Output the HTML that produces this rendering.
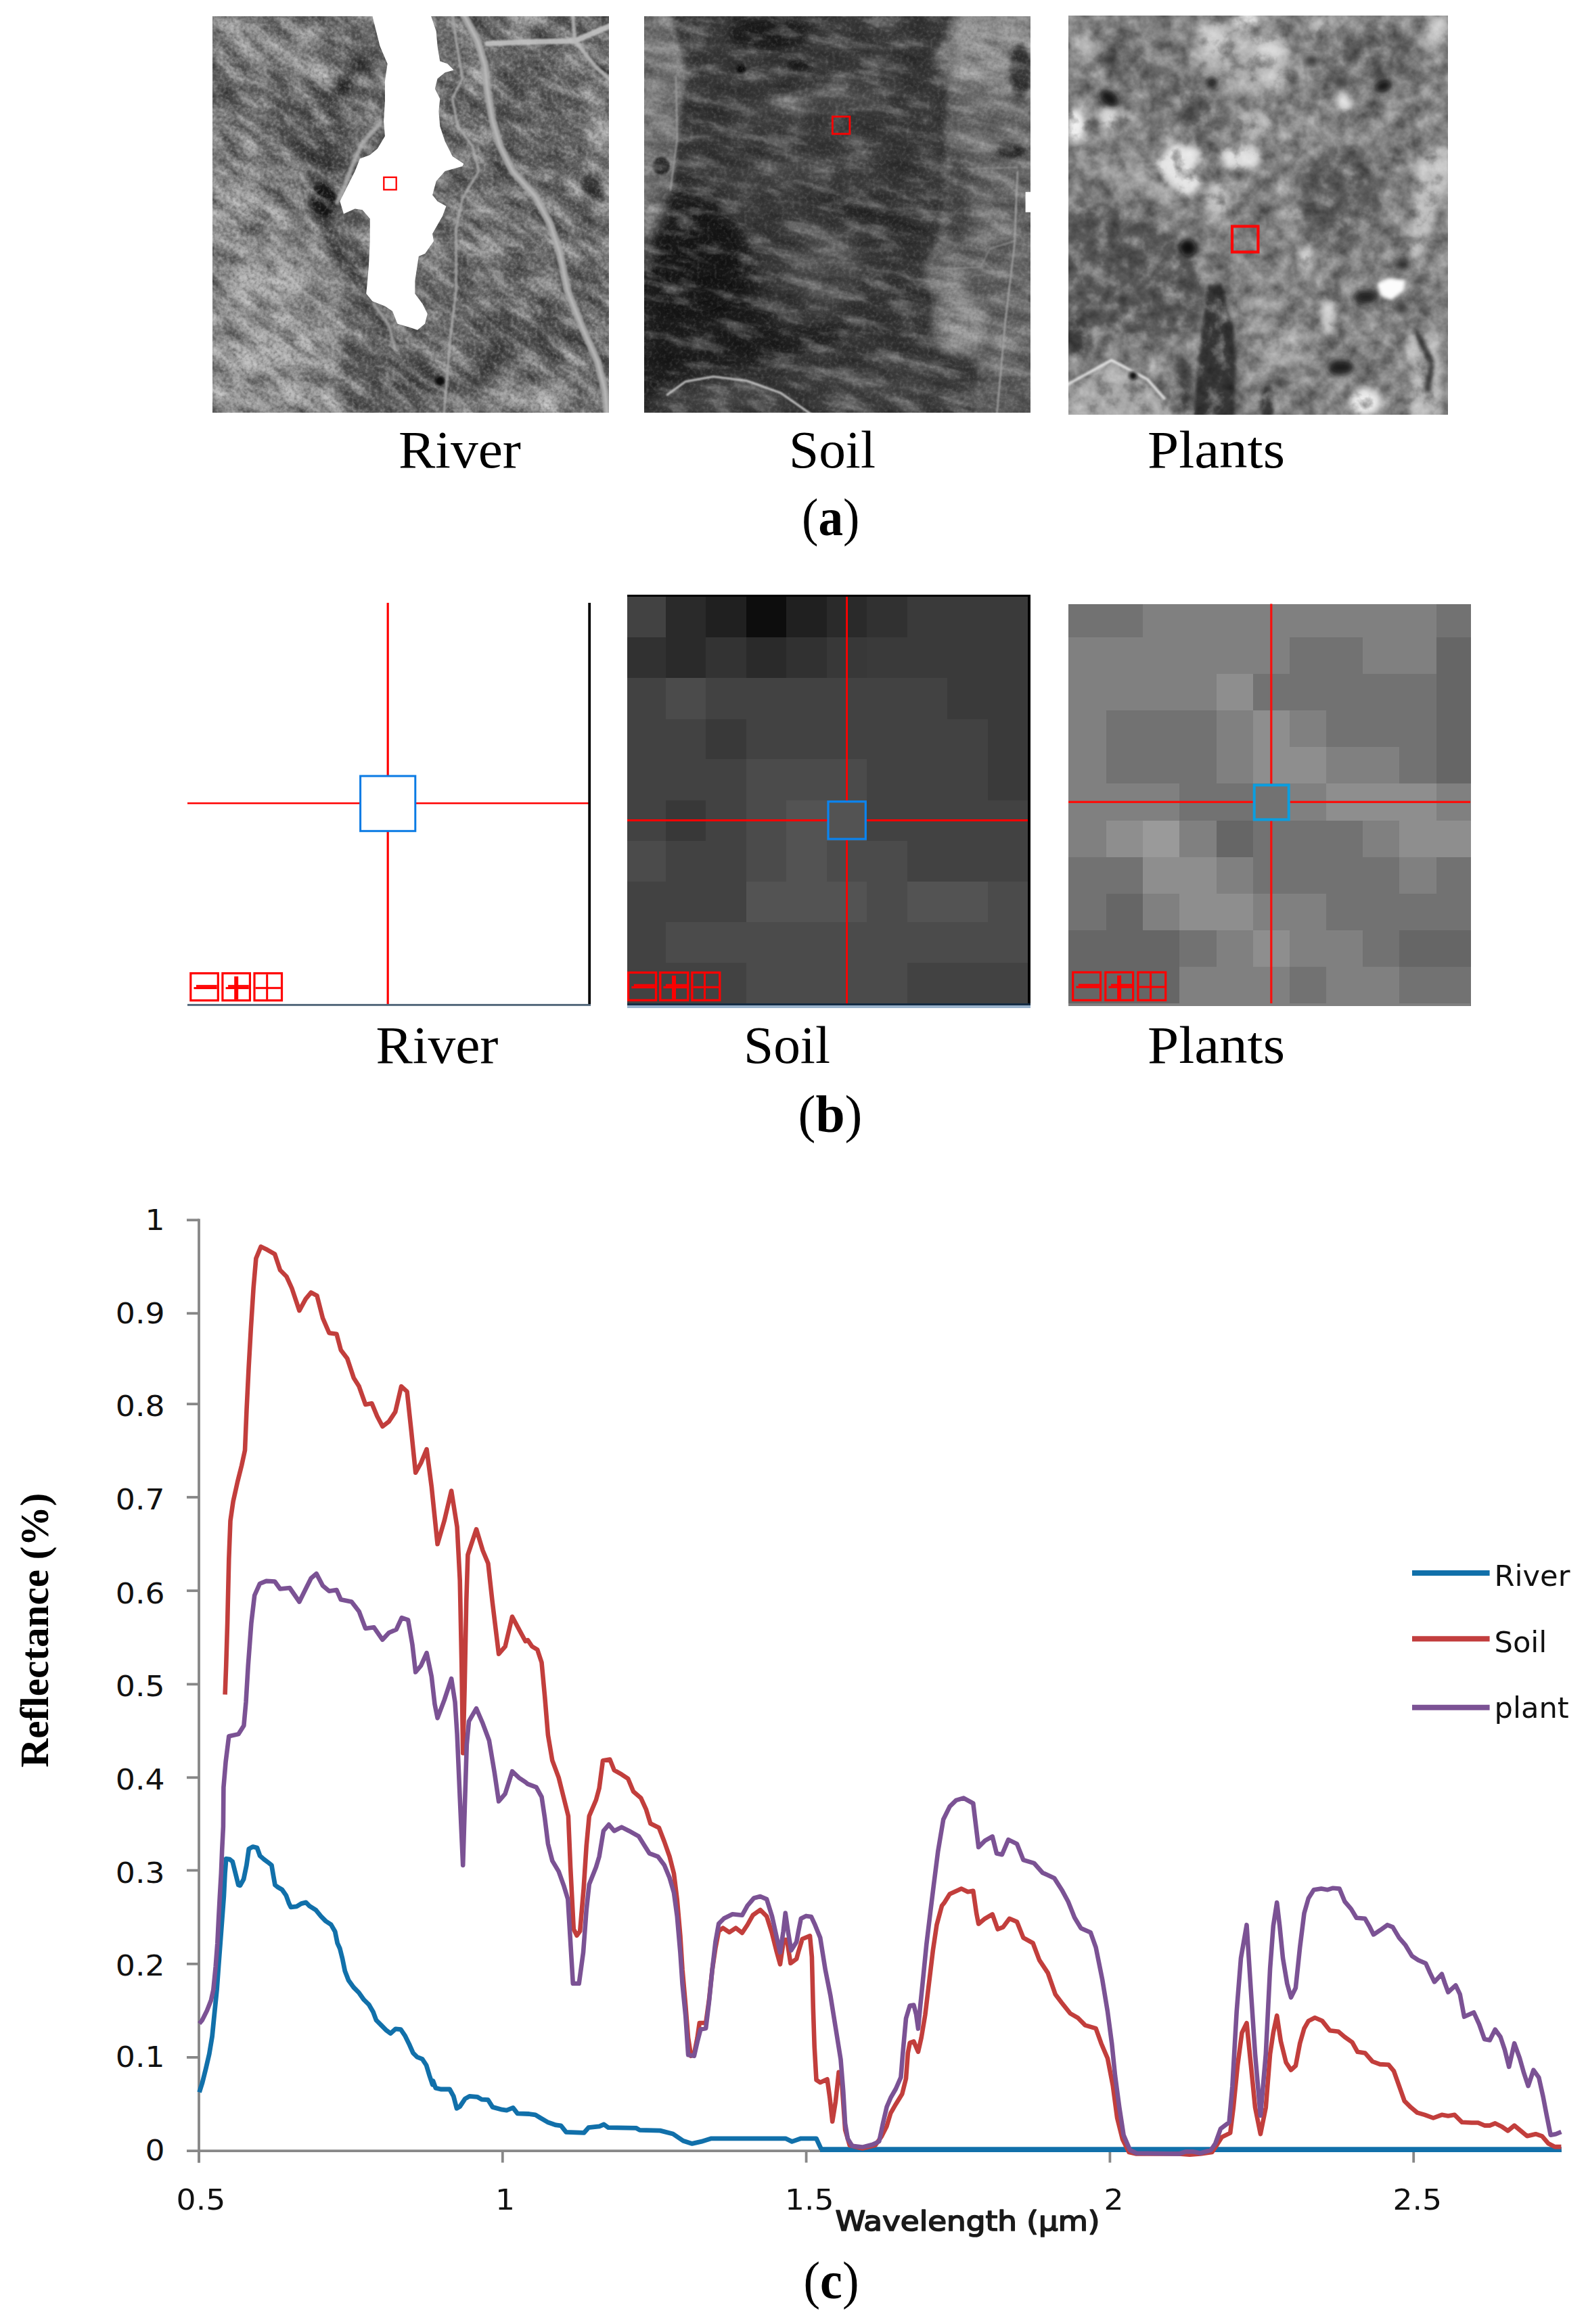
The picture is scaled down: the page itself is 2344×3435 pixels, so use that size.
<!DOCTYPE html>
<html lang="en"><head><meta charset="utf-8"><title>Figure</title>
<style>html,body{margin:0;padding:0;background:#fff}body{width:2344px;height:3435px;overflow:hidden}svg{display:block}.pal{font-family:"Liberation Serif","DejaVu Serif",serif}.dv{font-family:"DejaVu Sans","Liberation Sans",sans-serif}</style></head><body>
<svg width="2344" height="3435" viewBox="0 0 2344 3435">
<rect width="2344" height="3435" fill="#fff"/>
<defs>
<filter id="b2" x="-50%" y="-50%" width="200%" height="200%"><feGaussianBlur stdDeviation="2"/></filter>
<filter id="b4" x="-50%" y="-50%" width="200%" height="200%"><feGaussianBlur stdDeviation="4"/></filter>
<filter id="b8" x="-50%" y="-50%" width="200%" height="200%"><feGaussianBlur stdDeviation="8"/></filter>
<filter id="b14" x="-50%" y="-50%" width="200%" height="200%"><feGaussianBlur stdDeviation="14"/></filter>
<filter id="b25" x="-50%" y="-50%" width="200%" height="200%"><feGaussianBlur stdDeviation="25"/></filter>
<filter id="b40" x="-50%" y="-50%" width="200%" height="200%"><feGaussianBlur stdDeviation="40"/></filter>
<filter id="n1a" x="0" y="0" width="100%" height="100%" color-interpolation-filters="sRGB"><feTurbulence type="fractalNoise" baseFrequency="0.02 0.05" numOctaves="4" seed="11"/><feColorMatrix type="matrix" values="0.62 0 0 0 0.19  0.62 0 0 0 0.19  0.62 0 0 0 0.19  0 0 0 0 1"/></filter>
<filter id="n1b" x="0" y="0" width="100%" height="100%" color-interpolation-filters="sRGB"><feTurbulence type="fractalNoise" baseFrequency="0.2" numOctaves="2" seed="4"/><feColorMatrix type="matrix" values="0.5 0 0 0 0.25  0.5 0 0 0 0.25  0.5 0 0 0 0.25  0 0 0 0 1"/></filter>
<filter id="n2a" x="0" y="0" width="100%" height="100%" color-interpolation-filters="sRGB"><feTurbulence type="fractalNoise" baseFrequency="0.018 0.05" numOctaves="4" seed="23"/><feColorMatrix type="matrix" values="0.42 0 0 0 0.29000000000000004  0.42 0 0 0 0.29000000000000004  0.42 0 0 0 0.29000000000000004  0 0 0 0 1"/></filter>
<filter id="n2b" x="0" y="0" width="100%" height="100%" color-interpolation-filters="sRGB"><feTurbulence type="fractalNoise" baseFrequency="0.2" numOctaves="2" seed="9"/><feColorMatrix type="matrix" values="0.32 0 0 0 0.33999999999999997  0.32 0 0 0 0.33999999999999997  0.32 0 0 0 0.33999999999999997  0 0 0 0 1"/></filter>
<filter id="n3a" x="0" y="0" width="100%" height="100%" color-interpolation-filters="sRGB"><feTurbulence type="fractalNoise" baseFrequency="0.04" numOctaves="4" seed="5"/><feColorMatrix type="matrix" values="0.52 0 0 0 0.24  0.52 0 0 0 0.24  0.52 0 0 0 0.24  0 0 0 0 1"/></filter>
<clipPath id="cp1"><rect x="314" y="24" width="586" height="586"/></clipPath>
<clipPath id="cp2"><rect x="952" y="24" width="571" height="586"/></clipPath>
<clipPath id="cp3"><rect x="1579" y="23" width="561" height="590"/></clipPath>
</defs>
<g clip-path="url(#cp1)" style="isolation:isolate">
<g transform="translate(280 0) scale(0.45397)">
<rect x="60" y="40" width="1320" height="1320" fill="#6a6a6a"/>
<ellipse cx="260" cy="170" rx="240" ry="80" fill="#8a8a8a" filter="url(#b25)" transform="rotate(25 260 170)"/>
<ellipse cx="130" cy="480" rx="100" ry="90" fill="#868686" filter="url(#b25)"/>
<ellipse cx="400" cy="430" rx="120" ry="160" fill="#585858" filter="url(#b25)" transform="rotate(-25 400 430)"/>
<polygon points="60,560 300,540 420,700 480,900 560,1100 540,1360 60,1360" fill="#868686" filter="url(#b25)"/>
<ellipse cx="230" cy="920" rx="150" ry="70" fill="#a6a6a6" filter="url(#b25)" transform="rotate(-20 230 920)"/>
<ellipse cx="280" cy="1130" rx="170" ry="80" fill="#a8a8a8" filter="url(#b25)" transform="rotate(-15 280 1130)"/>
<ellipse cx="180" cy="690" rx="130" ry="60" fill="#a0a0a0" filter="url(#b25)"/>
<ellipse cx="250" cy="1290" rx="200" ry="50" fill="#9a9a9a" filter="url(#b25)"/>
<ellipse cx="530" cy="1200" rx="45" ry="170" fill="#5e5e5e" filter="url(#b14)"/>
<polyline points="560,200 470,330 440,470 450,600 410,690 480,790 540,900" fill="none" stroke="#3c3c3c" stroke-width="50" stroke-linejoin="round" stroke-linecap="round" filter="url(#b14)"/>
<ellipse cx="440" cy="650" rx="45" ry="55" fill="#1c1c1c" filter="url(#b8)"/>
<ellipse cx="1080" cy="1100" rx="190" ry="120" fill="#545454" filter="url(#b25)"/>
<ellipse cx="1150" cy="1295" rx="220" ry="45" fill="#909090" filter="url(#b25)"/>
<ellipse cx="1120" cy="380" rx="170" ry="230" fill="#626262" filter="url(#b40)"/>
<ellipse cx="1000" cy="760" rx="120" ry="160" fill="#747474" filter="url(#b40)"/>
<polygon points="1290,250 1380,250 1380,720 1330,700 1260,600 1300,480" fill="#828282" filter="url(#b8)"/>
<ellipse cx="700" cy="1230" rx="120" ry="70" fill="#4c4c4c" filter="url(#b25)"/>
<ellipse cx="1310" cy="620" rx="40" ry="60" fill="#3c3c3c" filter="url(#b8)"/>
<ellipse cx="1110" cy="60" rx="60" ry="25" fill="#909090" filter="url(#b8)"/>
</g>
<rect x="157" y="-133" width="900" height="900" filter="url(#n1a)" transform="rotate(35 607 317)" style="mix-blend-mode:hard-light" opacity="1"/>
<rect x="307" y="17" width="600" height="600" filter="url(#n1b)" transform="rotate(0 607 317)" style="mix-blend-mode:hard-light" opacity="0.6"/>
<g transform="translate(280 0) scale(0.45397)">
<ellipse cx="815" cy="1240" rx="15" ry="15" fill="#080808" filter="url(#b4)"/>
<polyline points="889,40 938,133 962,215 970,296 987,394 1011,475 1052,557 1125,638 1174,728 1206,825 1231,947 1280,1069 1328,1175 1353,1273 1361,1360" fill="none" stroke="#a8a8a8" stroke-width="24" stroke-linejoin="round" stroke-linecap="round" filter="url(#b2)" opacity="0.9"/>
<polyline points="889,40 938,133 962,215 970,296 987,394 1011,475 1052,557 1125,638 1174,728 1206,825 1231,947 1280,1069 1328,1175 1353,1273 1361,1360" fill="none" stroke="#c4c4c4" stroke-width="7" stroke-linejoin="round" stroke-linecap="round" filter="url(#b2)" opacity="0.7"/>
<polyline points="856,40 868,133 889,255 856,320 873,410 921,475 942,557 889,646 868,744 868,947 848,1110 828,1360" fill="none" stroke="#acacac" stroke-width="8" stroke-linejoin="round" stroke-linecap="round" filter="url(#b2)" opacity="0.85"/>
<polyline points="970,142 1092,137 1255,133 1380,80" fill="none" stroke="#c4c4c4" stroke-width="18" stroke-linejoin="round" stroke-linecap="round" filter="url(#b2)" opacity="0.9"/>
<polyline points="1247,40 1255,133 1320,215 1380,270" fill="none" stroke="#b8b8b8" stroke-width="12" stroke-linejoin="round" stroke-linecap="round" filter="url(#b2)" opacity="0.85"/>
<polyline points="620,400 560,470 530,540 500,620 480,660" fill="none" stroke="#b4b4b4" stroke-width="14" stroke-linejoin="round" stroke-linecap="round" filter="url(#b4)" opacity="0.8"/>
<polyline points="600,990 650,1060 670,1140" fill="none" stroke="#acacac" stroke-width="10" stroke-linejoin="round" stroke-linecap="round" filter="url(#b4)" opacity="0.8"/>
</g>
<g transform="translate(314 24) scale(0.36948)">
<polygon points="635,-20 655,60 670,120 700,190 690,260 690,340 685,420 690,480 660,530 630,555 590,570 570,620 540,680 510,740 525,790 570,770 600,775 630,810 630,900 625,1000 620,1060 615,1110 640,1140 690,1160 720,1180 740,1230 790,1245 820,1255 850,1230 860,1190 840,1150 810,1110 810,1060 825,960 850,950 885,900 880,870 920,800 935,760 900,740 880,715 895,660 930,620 1000,600 1005,590 960,560 930,500 910,440 905,380 910,330 890,290 900,250 930,225 965,215 940,190 910,180 900,120 895,60 868,-20" fill="#ffffff" filter="url(#b2)"/>
</g></g>
<g clip-path="url(#cp2)" style="isolation:isolate">
<g transform="translate(900 0) scale(0.45397)">
<rect x="100" y="40" width="1290" height="1320" fill="#3b3b3b"/>
<polygon points="1120,40 1390,40 1390,1360 1190,1360 1200,1200 1100,1100 1060,1000 1020,880 1070,780 1100,600 1090,400 1110,250 1050,200 1090,120" fill="#686868" filter="url(#b8)"/>
<polygon points="1130,40 1390,40 1390,330 1250,300 1130,280" fill="#909090" filter="url(#b14)"/>
<ellipse cx="1340" cy="230" rx="35" ry="90" fill="#383838" filter="url(#b8)"/>
<ellipse cx="1310" cy="490" rx="45" ry="25" fill="#282828" filter="url(#b8)"/>
<ellipse cx="1140" cy="1050" rx="90" ry="110" fill="#8c8c8c" filter="url(#b14)"/>
<ellipse cx="1300" cy="1260" rx="100" ry="90" fill="#585858" filter="url(#b14)"/>
<ellipse cx="1130" cy="650" rx="40" ry="150" fill="#4c4c4c" filter="url(#b14)"/>
<polygon points="100,40 200,40 230,150 250,250 230,400 215,550 200,650 225,750 180,830 100,810" fill="#7a7a7a" filter="url(#b8)"/>
<ellipse cx="165" cy="730" rx="50" ry="75" fill="#b8b8b8" filter="url(#b8)"/>
<ellipse cx="170" cy="540" rx="28" ry="28" fill="#282828" filter="url(#b4)"/>
<polygon points="100,830 220,600 330,620 450,800 500,1000 600,1100 550,1200 300,1200 200,1290 100,1310" fill="#1a1a1a" filter="url(#b25)"/>
<ellipse cx="300" cy="850" rx="130" ry="150" fill="#121212" filter="url(#b25)"/>
<ellipse cx="520" cy="110" rx="130" ry="50" fill="#1a1a1a" filter="url(#b14)"/>
<ellipse cx="620" cy="210" rx="40" ry="20" fill="#1c1c1c" filter="url(#b8)"/>
<ellipse cx="430" cy="225" rx="14" ry="14" fill="#101010" filter="url(#b4)"/>
<ellipse cx="720" cy="880" rx="110" ry="130" fill="#545454" filter="url(#b25)" transform="rotate(-30 720 880)"/>
<ellipse cx="700" cy="330" rx="250" ry="40" fill="#505050" filter="url(#b14)" transform="rotate(-8 700 330)"/>
<ellipse cx="560" cy="560" rx="220" ry="45" fill="#4a4a4a" filter="url(#b14)" transform="rotate(-10 560 560)"/>
<ellipse cx="850" cy="700" rx="170" ry="35" fill="#2a2a2a" filter="url(#b14)" transform="rotate(20 850 700)"/>
<ellipse cx="880" cy="1040" rx="120" ry="200" fill="#363636" filter="url(#b40)"/>
<ellipse cx="350" cy="1290" rx="200" ry="45" fill="#484848" filter="url(#b14)"/>
<ellipse cx="900" cy="1250" rx="200" ry="80" fill="#464646" filter="url(#b25)"/>
<ellipse cx="620" cy="1110" rx="160" ry="40" fill="#202020" filter="url(#b14)" transform="rotate(-15 620 1110)"/>
</g>
<rect x="787" y="-133" width="900" height="900" filter="url(#n2a)" transform="rotate(12 1237 317)" style="mix-blend-mode:hard-light" opacity="1"/>
<rect x="937" y="17" width="600" height="600" filter="url(#n2b)" transform="rotate(0 1237 317)" style="mix-blend-mode:hard-light" opacity="0.5"/>
<g transform="translate(900 0) scale(0.45397)">
<polyline points="1330,560 1320,800 1290,1050 1262,1360" fill="none" stroke="#a8a8a8" stroke-width="6" stroke-linejoin="round" stroke-linecap="round" filter="url(#b2)" opacity="0.8"/>
<polyline points="190,1285 250,1242 340,1226 450,1240 560,1280 660,1350" fill="none" stroke="#d0d0d0" stroke-width="7" stroke-linejoin="round" stroke-linecap="round" filter="url(#b2)" opacity="0.85"/>
<polyline points="1170,550 1330,545" fill="none" stroke="#989898" stroke-width="4" stroke-linejoin="round" stroke-linecap="round" filter="url(#b2)" opacity="0.8"/>
<polyline points="1100,875 1210,870 1240,810 1320,785" fill="none" stroke="#989898" stroke-width="4" stroke-linejoin="round" stroke-linecap="round" filter="url(#b2)" opacity="0.8"/>
<polyline points="218,250 222,450 200,620" fill="none" stroke="#a4a4a4" stroke-width="5" stroke-linejoin="round" stroke-linecap="round" filter="url(#b2)" opacity="0.8"/>
<rect x="1356" y="625" width="20" height="66" fill="#fff"/>
</g></g>
<g clip-path="url(#cp3)" style="isolation:isolate">
<g transform="translate(1579 23) scale(0.35372)">
<rect x="-30" y="-30" width="1650" height="1730" fill="#7e7e7e"/>
<polygon points="-30,780 200,790 500,950 570,1130 540,1320 300,1350 100,1300 -30,1320" fill="#5c5c5c" filter="url(#b14)"/>
<ellipse cx="1130" cy="760" rx="170" ry="200" fill="#606060" filter="url(#b25)"/>
<ellipse cx="530" cy="390" rx="140" ry="80" fill="#5e5e5e" filter="url(#b14)" transform="rotate(40 530 390)"/>
<ellipse cx="300" cy="240" rx="150" ry="80" fill="#6c6c6c" filter="url(#b25)" transform="rotate(30 300 240)"/>
<ellipse cx="1250" cy="180" rx="180" ry="110" fill="#6a6a6a" filter="url(#b25)"/>
<ellipse cx="40" cy="1350" rx="60" ry="80" fill="#444444" filter="url(#b14)"/>
<ellipse cx="250" cy="650" rx="260" ry="80" fill="#909090" filter="url(#b14)" transform="rotate(20 250 650)"/>
<ellipse cx="820" cy="1230" rx="200" ry="110" fill="#8c8c8c" filter="url(#b25)"/>
<ellipse cx="950" cy="480" rx="120" ry="80" fill="#8e8e8e" filter="url(#b25)"/>
<ellipse cx="720" cy="170" rx="190" ry="150" fill="#a6a6a6" filter="url(#b25)"/>
<polygon points="360,620 440,530 560,560 520,640 560,700 500,760 420,700" fill="#e4e4e4" filter="url(#b14)"/>
<ellipse cx="720" cy="590" rx="85" ry="52" fill="#dcdcdc" filter="url(#b14)"/>
<ellipse cx="620" cy="770" rx="50" ry="70" fill="#c0c0c0" filter="url(#b14)"/>
<ellipse cx="780" cy="450" rx="80" ry="55" fill="#b0b0b0" filter="url(#b14)"/>
<ellipse cx="740" cy="18" rx="55" ry="30" fill="#f0f0f0" filter="url(#b14)"/>
<ellipse cx="610" cy="100" rx="60" ry="70" fill="#d0d0d0" filter="url(#b25)"/>
<ellipse cx="840" cy="150" rx="70" ry="60" fill="#d0d0d0" filter="url(#b25)"/>
<ellipse cx="860" cy="270" rx="50" ry="60" fill="#c4c4c4" filter="url(#b25)"/>
<ellipse cx="30" cy="460" rx="40" ry="70" fill="#f0f0f0" filter="url(#b14)"/>
<ellipse cx="70" cy="135" rx="50" ry="50" fill="#b8b8b8" filter="url(#b25)"/>
<ellipse cx="170" cy="425" rx="38" ry="50" fill="#d8d8d8" filter="url(#b14)"/>
<ellipse cx="250" cy="425" rx="45" ry="22" fill="#b4b4b4" filter="url(#b14)"/>
<ellipse cx="1050" cy="40" rx="60" ry="45" fill="#b8b8b8" filter="url(#b25)"/>
<ellipse cx="1150" cy="365" rx="30" ry="45" fill="#d8d8d8" filter="url(#b14)"/>
<ellipse cx="1545" cy="60" rx="50" ry="70" fill="#c8c8c8" filter="url(#b25)"/>
<ellipse cx="1085" cy="1255" rx="28" ry="80" fill="#c8c8c8" filter="url(#b14)"/>
<ellipse cx="1240" cy="1615" rx="65" ry="55" fill="#ececec" filter="url(#b14)"/>
<ellipse cx="995" cy="1020" rx="30" ry="50" fill="#d0d0d0" filter="url(#b14)"/>
<ellipse cx="930" cy="830" rx="50" ry="30" fill="#b4b4b4" filter="url(#b14)"/>
<polygon points="1480,560 1600,540 1600,700 1540,800 1480,1000 1420,1020 1440,800 1450,650" fill="#bcbcbc" filter="url(#b14)"/>
<polygon points="1400,1330 1540,1330 1560,1690 1420,1690 1440,1500" fill="#b4b4b4" filter="url(#b14)"/>
<polygon points="-30,1560 180,1440 300,1520 420,1600 440,1700 -30,1700" fill="#a4a4a4" filter="url(#b8)"/>
<ellipse cx="900" cy="1385" rx="120" ry="75" fill="#a0a0a0" filter="url(#b14)"/>
<polygon points="580,1130 640,1120 690,1300 700,1450 690,1700 520,1700 540,1450 560,1300" fill="#383838" filter="url(#b8)"/>
<ellipse cx="480" cy="1570" rx="36" ry="120" fill="#484848" filter="url(#b14)"/>
<ellipse cx="830" cy="1620" rx="28" ry="70" fill="#3c3c3c" filter="url(#b8)"/>
<polyline points="1450,1320 1520,1450 1500,1560" fill="none" stroke="#4c4c4c" stroke-width="26" stroke-linejoin="round" stroke-linecap="round" filter="url(#b8)"/>
</g>
<rect x="1410" y="-132" width="900" height="900" filter="url(#n3a)" transform="rotate(40 1860 318)" style="mix-blend-mode:hard-light" opacity="1"/>
<g transform="translate(1579 23) scale(0.35372)">
<polyline points="-10,1545 180,1440 330,1520 400,1600" fill="none" stroke="#f0f0f0" stroke-width="12" stroke-linejoin="round" stroke-linecap="round" filter="url(#b4)" opacity="0.85"/>
<polygon points="1290,1120 1340,1095 1410,1105 1400,1150 1350,1190 1300,1170" fill="#fcfcfc" filter="url(#b8)"/>
<ellipse cx="170" cy="345" rx="46" ry="30" fill="#141414" filter="url(#b14)" transform="rotate(40 170 345)"/>
<ellipse cx="175" cy="185" rx="30" ry="18" fill="#2c2c2c" filter="url(#b14)"/>
<ellipse cx="600" cy="280" rx="24" ry="26" fill="#1c1c1c" filter="url(#b14)"/>
<ellipse cx="1012" cy="188" rx="32" ry="16" fill="#383838" filter="url(#b14)"/>
<ellipse cx="1315" cy="295" rx="40" ry="28" fill="#181818" filter="url(#b14)" transform="rotate(-20 1315 295)"/>
<ellipse cx="1135" cy="275" rx="30" ry="18" fill="#3c3c3c" filter="url(#b14)"/>
<ellipse cx="500" cy="970" rx="34" ry="36" fill="#080808" filter="url(#b14)" transform="rotate(-30 500 970)"/>
<ellipse cx="230" cy="1185" rx="24" ry="19" fill="#303030" filter="url(#b14)"/>
<ellipse cx="270" cy="1505" rx="17" ry="18" fill="#080808" filter="url(#b8)"/>
<ellipse cx="1140" cy="1470" rx="55" ry="32" fill="#1c1c1c" filter="url(#b14)"/>
<ellipse cx="1245" cy="1175" rx="50" ry="28" fill="#242424" filter="url(#b14)"/>
<ellipse cx="1395" cy="1040" rx="28" ry="24" fill="#2c2c2c" filter="url(#b14)"/>
<ellipse cx="1395" cy="1220" rx="20" ry="24" fill="#303030" filter="url(#b14)"/>
</g></g>
<rect x="567.3" y="262" width="18.4" height="18.4" fill="none" stroke="#f00" stroke-width="2.3"/>
<rect x="1230.4" y="172.3" width="25.5" height="25.6" fill="none" stroke="#f00" stroke-width="2.8"/>
<rect x="1821" y="334.5" width="38.4" height="38" fill="none" stroke="#fa0808" stroke-width="4.2"/>
<text x="589" y="690.5" font-size="78" class="pal" fill="#000" textLength="181" lengthAdjust="spacingAndGlyphs">River</text>
<text x="1166" y="690.5" font-size="78" class="pal" fill="#000" textLength="128" lengthAdjust="spacingAndGlyphs">Soil</text>
<text x="1696" y="690.5" font-size="78" class="pal" fill="#000" textLength="203" lengthAdjust="spacingAndGlyphs">Plants</text>
<text x="1185" y="791" font-size="78" class="pal" textLength="85.5" lengthAdjust="spacingAndGlyphs">(<tspan font-weight="bold">a</tspan>)</text>
<text x="555.5" y="1570.5" font-size="78" class="pal" fill="#000" textLength="181" lengthAdjust="spacingAndGlyphs">River</text>
<text x="1099" y="1570.5" font-size="78" class="pal" fill="#000" textLength="128" lengthAdjust="spacingAndGlyphs">Soil</text>
<text x="1696" y="1570.5" font-size="78" class="pal" fill="#000" textLength="203" lengthAdjust="spacingAndGlyphs">Plants</text>
<text x="1179.5" y="1673" font-size="78" class="pal" textLength="95" lengthAdjust="spacingAndGlyphs">(<tspan font-weight="bold">b</tspan>)</text>
<text x="1187.5" y="3396.5" font-size="78" class="pal" textLength="82" lengthAdjust="spacingAndGlyphs">(<tspan font-weight="bold">c</tspan>)</text>
<g>
<line x1="573.2" y1="891" x2="573.2" y2="1484" stroke="#f00" stroke-width="3.2"/>
<line x1="277" y1="1187.3" x2="871" y2="1187.3" stroke="#f00" stroke-width="2.6"/>
<rect x="869.3" y="891" width="3.8" height="593" fill="#000"/>
<rect x="277" y="1483.9" width="596.1" height="2.9" fill="#4f6478"/>
<rect x="532.6" y="1147" width="81.2" height="81.3" fill="#fff" stroke="#0a7be4" stroke-width="3"/>
<g fill="none" stroke="#f00" stroke-width="3.2"><rect x="281.8" y="1438.6" width="40.5" height="40.1"/><rect x="328.9" y="1438.6" width="40.5" height="40.1"/><rect x="376.0" y="1438.6" width="40.5" height="40.1"/></g><g fill="#f00"><rect x="290.0" y="1455.8" width="30.7" height="3.1"/><rect x="286.5" y="1458.9" width="34.2" height="3.1"/><rect x="337.1" y="1455.8" width="30.7" height="3.1"/><rect x="333.6" y="1458.9" width="34.2" height="3.1"/><rect x="346.2" y="1443.2" width="6" height="33.9"/><rect x="393.2" y="1440.2" width="3" height="36.9"/><rect x="377.6" y="1458.8" width="37.3" height="3"/></g>
</g>
<g shape-rendering="crispEdges">
<rect x="927" y="878.7" width="596" height="605" fill="#000"/>
<rect x="927.0" y="882.0" width="57.1" height="60.5" fill="#424242"/>
<rect x="983.6" y="882.0" width="60.1" height="60.5" fill="#2a2a2a"/>
<rect x="1043.2" y="882.0" width="60.0" height="60.5" fill="#202020"/>
<rect x="1102.7" y="882.0" width="60.0" height="60.5" fill="#0d0d0d"/>
<rect x="1162.2" y="882.0" width="60.0" height="60.5" fill="#202020"/>
<rect x="1221.7" y="882.0" width="60.0" height="60.5" fill="#2a2a2a"/>
<rect x="1281.2" y="882.0" width="60.0" height="60.5" fill="#313131"/>
<rect x="1340.7" y="882.0" width="60.0" height="60.5" fill="#3a3a3a"/>
<rect x="1400.2" y="882.0" width="60.0" height="60.5" fill="#3a3a3a"/>
<rect x="1459.7" y="882.0" width="60.0" height="60.5" fill="#3a3a3a"/>
<rect x="927.0" y="942.0" width="57.1" height="60.8" fill="#313131"/>
<rect x="983.6" y="942.0" width="60.1" height="60.8" fill="#2a2a2a"/>
<rect x="1043.2" y="942.0" width="60.0" height="60.8" fill="#333333"/>
<rect x="1102.7" y="942.0" width="60.0" height="60.8" fill="#2a2a2a"/>
<rect x="1162.2" y="942.0" width="60.0" height="60.8" fill="#313131"/>
<rect x="1221.7" y="942.0" width="60.0" height="60.8" fill="#383838"/>
<rect x="1281.2" y="942.0" width="60.0" height="60.8" fill="#3a3a3a"/>
<rect x="1340.7" y="942.0" width="60.0" height="60.8" fill="#3a3a3a"/>
<rect x="1400.2" y="942.0" width="60.0" height="60.8" fill="#3a3a3a"/>
<rect x="1459.7" y="942.0" width="60.0" height="60.8" fill="#3a3a3a"/>
<rect x="927.0" y="1002.3" width="57.1" height="60.9" fill="#424242"/>
<rect x="983.6" y="1002.3" width="60.1" height="60.9" fill="#4b4b4b"/>
<rect x="1043.2" y="1002.3" width="60.0" height="60.9" fill="#424242"/>
<rect x="1102.7" y="1002.3" width="60.0" height="60.9" fill="#424242"/>
<rect x="1162.2" y="1002.3" width="60.0" height="60.9" fill="#424242"/>
<rect x="1221.7" y="1002.3" width="60.0" height="60.9" fill="#424242"/>
<rect x="1281.2" y="1002.3" width="60.0" height="60.9" fill="#424242"/>
<rect x="1340.7" y="1002.3" width="60.0" height="60.9" fill="#424242"/>
<rect x="1400.2" y="1002.3" width="60.0" height="60.9" fill="#3a3a3a"/>
<rect x="1459.7" y="1002.3" width="60.0" height="60.9" fill="#3a3a3a"/>
<rect x="927.0" y="1062.7" width="57.1" height="60.0" fill="#424242"/>
<rect x="983.6" y="1062.7" width="60.1" height="60.0" fill="#424242"/>
<rect x="1043.2" y="1062.7" width="60.0" height="60.0" fill="#393939"/>
<rect x="1102.7" y="1062.7" width="60.0" height="60.0" fill="#424242"/>
<rect x="1162.2" y="1062.7" width="60.0" height="60.0" fill="#424242"/>
<rect x="1221.7" y="1062.7" width="60.0" height="60.0" fill="#424242"/>
<rect x="1281.2" y="1062.7" width="60.0" height="60.0" fill="#424242"/>
<rect x="1340.7" y="1062.7" width="60.0" height="60.0" fill="#424242"/>
<rect x="1400.2" y="1062.7" width="60.0" height="60.0" fill="#424242"/>
<rect x="1459.7" y="1062.7" width="60.0" height="60.0" fill="#3a3a3a"/>
<rect x="927.0" y="1122.2" width="57.1" height="60.8" fill="#424242"/>
<rect x="983.6" y="1122.2" width="60.1" height="60.8" fill="#424242"/>
<rect x="1043.2" y="1122.2" width="60.0" height="60.8" fill="#424242"/>
<rect x="1102.7" y="1122.2" width="60.0" height="60.8" fill="#4b4b4b"/>
<rect x="1162.2" y="1122.2" width="60.0" height="60.8" fill="#4b4b4b"/>
<rect x="1221.7" y="1122.2" width="60.0" height="60.8" fill="#4b4b4b"/>
<rect x="1281.2" y="1122.2" width="60.0" height="60.8" fill="#424242"/>
<rect x="1340.7" y="1122.2" width="60.0" height="60.8" fill="#424242"/>
<rect x="1400.2" y="1122.2" width="60.0" height="60.8" fill="#424242"/>
<rect x="1459.7" y="1122.2" width="60.0" height="60.8" fill="#3a3a3a"/>
<rect x="927.0" y="1182.5" width="57.1" height="60.9" fill="#424242"/>
<rect x="983.6" y="1182.5" width="60.1" height="60.9" fill="#383838"/>
<rect x="1043.2" y="1182.5" width="60.0" height="60.9" fill="#424242"/>
<rect x="1102.7" y="1182.5" width="60.0" height="60.9" fill="#4b4b4b"/>
<rect x="1162.2" y="1182.5" width="60.0" height="60.9" fill="#535353"/>
<rect x="1221.7" y="1182.5" width="60.0" height="60.9" fill="#535353"/>
<rect x="1281.2" y="1182.5" width="60.0" height="60.9" fill="#424242"/>
<rect x="1340.7" y="1182.5" width="60.0" height="60.9" fill="#424242"/>
<rect x="1400.2" y="1182.5" width="60.0" height="60.9" fill="#424242"/>
<rect x="1459.7" y="1182.5" width="60.0" height="60.9" fill="#424242"/>
<rect x="927.0" y="1242.9" width="57.1" height="60.4" fill="#4b4b4b"/>
<rect x="983.6" y="1242.9" width="60.1" height="60.4" fill="#424242"/>
<rect x="1043.2" y="1242.9" width="60.0" height="60.4" fill="#424242"/>
<rect x="1102.7" y="1242.9" width="60.0" height="60.4" fill="#4b4b4b"/>
<rect x="1162.2" y="1242.9" width="60.0" height="60.4" fill="#535353"/>
<rect x="1221.7" y="1242.9" width="60.0" height="60.4" fill="#4b4b4b"/>
<rect x="1281.2" y="1242.9" width="60.0" height="60.4" fill="#4b4b4b"/>
<rect x="1340.7" y="1242.9" width="60.0" height="60.4" fill="#424242"/>
<rect x="1400.2" y="1242.9" width="60.0" height="60.4" fill="#424242"/>
<rect x="1459.7" y="1242.9" width="60.0" height="60.4" fill="#424242"/>
<rect x="927.0" y="1302.8" width="57.1" height="60.4" fill="#424242"/>
<rect x="983.6" y="1302.8" width="60.1" height="60.4" fill="#424242"/>
<rect x="1043.2" y="1302.8" width="60.0" height="60.4" fill="#424242"/>
<rect x="1102.7" y="1302.8" width="60.0" height="60.4" fill="#535353"/>
<rect x="1162.2" y="1302.8" width="60.0" height="60.4" fill="#535353"/>
<rect x="1221.7" y="1302.8" width="60.0" height="60.4" fill="#535353"/>
<rect x="1281.2" y="1302.8" width="60.0" height="60.4" fill="#4b4b4b"/>
<rect x="1340.7" y="1302.8" width="60.0" height="60.4" fill="#535353"/>
<rect x="1400.2" y="1302.8" width="60.0" height="60.4" fill="#535353"/>
<rect x="1459.7" y="1302.8" width="60.0" height="60.4" fill="#4b4b4b"/>
<rect x="927.0" y="1362.7" width="57.1" height="60.4" fill="#424242"/>
<rect x="983.6" y="1362.7" width="60.1" height="60.4" fill="#4b4b4b"/>
<rect x="1043.2" y="1362.7" width="60.0" height="60.4" fill="#4b4b4b"/>
<rect x="1102.7" y="1362.7" width="60.0" height="60.4" fill="#4b4b4b"/>
<rect x="1162.2" y="1362.7" width="60.0" height="60.4" fill="#4b4b4b"/>
<rect x="1221.7" y="1362.7" width="60.0" height="60.4" fill="#4b4b4b"/>
<rect x="1281.2" y="1362.7" width="60.0" height="60.4" fill="#4b4b4b"/>
<rect x="1340.7" y="1362.7" width="60.0" height="60.4" fill="#4b4b4b"/>
<rect x="1400.2" y="1362.7" width="60.0" height="60.4" fill="#4b4b4b"/>
<rect x="1459.7" y="1362.7" width="60.0" height="60.4" fill="#4b4b4b"/>
<rect x="927.0" y="1422.6" width="57.1" height="60.9" fill="#424242"/>
<rect x="983.6" y="1422.6" width="60.1" height="60.9" fill="#424242"/>
<rect x="1043.2" y="1422.6" width="60.0" height="60.9" fill="#424242"/>
<rect x="1102.7" y="1422.6" width="60.0" height="60.9" fill="#4b4b4b"/>
<rect x="1162.2" y="1422.6" width="60.0" height="60.9" fill="#4b4b4b"/>
<rect x="1221.7" y="1422.6" width="60.0" height="60.9" fill="#4b4b4b"/>
<rect x="1281.2" y="1422.6" width="60.0" height="60.9" fill="#4b4b4b"/>
<rect x="1340.7" y="1422.6" width="60.0" height="60.9" fill="#424242"/>
<rect x="1400.2" y="1422.6" width="60.0" height="60.9" fill="#424242"/>
<rect x="1459.7" y="1422.6" width="60.0" height="60.9" fill="#424242"/>
<rect x="1519.2" y="878.7" width="3.8" height="604.5" fill="#000"/>
<rect x="927" y="1483" width="596" height="3" fill="#152c44"/>
<rect x="927" y="1486" width="596" height="3.7" fill="#9ab3cc"/>
</g>
<line x1="1251.6" y1="882" x2="1251.6" y2="1483" stroke="#f00" stroke-width="2.8"/>
<line x1="927" y1="1212.5" x2="1519" y2="1212.5" stroke="#f00" stroke-width="2.8"/>
<rect x="1224" y="1184.8" width="55.3" height="55.3" fill="#535353" stroke="#0a84f0" stroke-width="3.2"/>
<g fill="none" stroke="#f00" stroke-width="3.3"><rect x="928.6" y="1437.5" width="40.9" height="40.9"/><rect x="975.8" y="1437.5" width="40.9" height="40.9"/><rect x="1022.9" y="1437.5" width="40.9" height="40.9"/></g><g fill="#f00"><rect x="936.8" y="1454.6" width="31.1" height="3.1"/><rect x="933.3" y="1457.7" width="34.6" height="3.1"/><rect x="983.9" y="1454.6" width="31.1" height="3.1"/><rect x="980.4" y="1457.7" width="34.6" height="3.1"/><rect x="993.0" y="1442.0" width="6" height="34.7"/><rect x="1040.0" y="1439.1" width="3" height="37.6"/><rect x="1024.5" y="1457.6" width="37.6" height="3"/></g>
<g shape-rendering="crispEdges">
<rect x="1579.1" y="892.5" width="56.3" height="50.0" fill="#727272"/>
<rect x="1634.9" y="892.5" width="54.6" height="50.0" fill="#727272"/>
<rect x="1689.0" y="892.5" width="54.6" height="50.0" fill="#808080"/>
<rect x="1743.1" y="892.5" width="55.0" height="50.0" fill="#808080"/>
<rect x="1797.6" y="892.5" width="54.6" height="50.0" fill="#808080"/>
<rect x="1851.7" y="892.5" width="54.6" height="50.0" fill="#808080"/>
<rect x="1905.8" y="892.5" width="54.6" height="50.0" fill="#808080"/>
<rect x="1959.9" y="892.5" width="54.6" height="50.0" fill="#808080"/>
<rect x="2014.0" y="892.5" width="54.6" height="50.0" fill="#808080"/>
<rect x="2068.1" y="892.5" width="55.0" height="50.0" fill="#808080"/>
<rect x="2122.6" y="892.5" width="50.9" height="50.0" fill="#727272"/>
<rect x="1579.1" y="942.0" width="56.3" height="54.6" fill="#808080"/>
<rect x="1634.9" y="942.0" width="54.6" height="54.6" fill="#808080"/>
<rect x="1689.0" y="942.0" width="54.6" height="54.6" fill="#808080"/>
<rect x="1743.1" y="942.0" width="55.0" height="54.6" fill="#808080"/>
<rect x="1797.6" y="942.0" width="54.6" height="54.6" fill="#808080"/>
<rect x="1851.7" y="942.0" width="54.6" height="54.6" fill="#808080"/>
<rect x="1905.8" y="942.0" width="54.6" height="54.6" fill="#727272"/>
<rect x="1959.9" y="942.0" width="54.6" height="54.6" fill="#727272"/>
<rect x="2014.0" y="942.0" width="54.6" height="54.6" fill="#808080"/>
<rect x="2068.1" y="942.0" width="55.0" height="54.6" fill="#808080"/>
<rect x="2122.6" y="942.0" width="50.9" height="54.6" fill="#666666"/>
<rect x="1579.1" y="996.1" width="56.3" height="54.6" fill="#808080"/>
<rect x="1634.9" y="996.1" width="54.6" height="54.6" fill="#808080"/>
<rect x="1689.0" y="996.1" width="54.6" height="54.6" fill="#808080"/>
<rect x="1743.1" y="996.1" width="55.0" height="54.6" fill="#808080"/>
<rect x="1797.6" y="996.1" width="54.6" height="54.6" fill="#8e8e8e"/>
<rect x="1851.7" y="996.1" width="54.6" height="54.6" fill="#727272"/>
<rect x="1905.8" y="996.1" width="54.6" height="54.6" fill="#727272"/>
<rect x="1959.9" y="996.1" width="54.6" height="54.6" fill="#727272"/>
<rect x="2014.0" y="996.1" width="54.6" height="54.6" fill="#727272"/>
<rect x="2068.1" y="996.1" width="55.0" height="54.6" fill="#727272"/>
<rect x="2122.6" y="996.1" width="50.9" height="54.6" fill="#666666"/>
<rect x="1579.1" y="1050.2" width="56.3" height="54.6" fill="#808080"/>
<rect x="1634.9" y="1050.2" width="54.6" height="54.6" fill="#727272"/>
<rect x="1689.0" y="1050.2" width="54.6" height="54.6" fill="#727272"/>
<rect x="1743.1" y="1050.2" width="55.0" height="54.6" fill="#727272"/>
<rect x="1797.6" y="1050.2" width="54.6" height="54.6" fill="#808080"/>
<rect x="1851.7" y="1050.2" width="54.6" height="54.6" fill="#8e8e8e"/>
<rect x="1905.8" y="1050.2" width="54.6" height="54.6" fill="#808080"/>
<rect x="1959.9" y="1050.2" width="54.6" height="54.6" fill="#727272"/>
<rect x="2014.0" y="1050.2" width="54.6" height="54.6" fill="#727272"/>
<rect x="2068.1" y="1050.2" width="55.0" height="54.6" fill="#727272"/>
<rect x="2122.6" y="1050.2" width="50.9" height="54.6" fill="#666666"/>
<rect x="1579.1" y="1104.3" width="56.3" height="54.6" fill="#808080"/>
<rect x="1634.9" y="1104.3" width="54.6" height="54.6" fill="#727272"/>
<rect x="1689.0" y="1104.3" width="54.6" height="54.6" fill="#727272"/>
<rect x="1743.1" y="1104.3" width="55.0" height="54.6" fill="#727272"/>
<rect x="1797.6" y="1104.3" width="54.6" height="54.6" fill="#808080"/>
<rect x="1851.7" y="1104.3" width="54.6" height="54.6" fill="#8e8e8e"/>
<rect x="1905.8" y="1104.3" width="54.6" height="54.6" fill="#8e8e8e"/>
<rect x="1959.9" y="1104.3" width="54.6" height="54.6" fill="#808080"/>
<rect x="2014.0" y="1104.3" width="54.6" height="54.6" fill="#808080"/>
<rect x="2068.1" y="1104.3" width="55.0" height="54.6" fill="#727272"/>
<rect x="2122.6" y="1104.3" width="50.9" height="54.6" fill="#666666"/>
<rect x="1579.1" y="1158.4" width="56.3" height="54.6" fill="#808080"/>
<rect x="1634.9" y="1158.4" width="54.6" height="54.6" fill="#808080"/>
<rect x="1689.0" y="1158.4" width="54.6" height="54.6" fill="#808080"/>
<rect x="1743.1" y="1158.4" width="55.0" height="54.6" fill="#727272"/>
<rect x="1797.6" y="1158.4" width="54.6" height="54.6" fill="#727272"/>
<rect x="1851.7" y="1158.4" width="54.6" height="54.6" fill="#727272"/>
<rect x="1905.8" y="1158.4" width="54.6" height="54.6" fill="#808080"/>
<rect x="1959.9" y="1158.4" width="54.6" height="54.6" fill="#8e8e8e"/>
<rect x="2014.0" y="1158.4" width="54.6" height="54.6" fill="#8e8e8e"/>
<rect x="2068.1" y="1158.4" width="55.0" height="54.6" fill="#8e8e8e"/>
<rect x="2122.6" y="1158.4" width="50.9" height="54.6" fill="#808080"/>
<rect x="1579.1" y="1212.5" width="56.3" height="54.6" fill="#808080"/>
<rect x="1634.9" y="1212.5" width="54.6" height="54.6" fill="#8e8e8e"/>
<rect x="1689.0" y="1212.5" width="54.6" height="54.6" fill="#9a9a9a"/>
<rect x="1743.1" y="1212.5" width="55.0" height="54.6" fill="#808080"/>
<rect x="1797.6" y="1212.5" width="54.6" height="54.6" fill="#666666"/>
<rect x="1851.7" y="1212.5" width="54.6" height="54.6" fill="#727272"/>
<rect x="1905.8" y="1212.5" width="54.6" height="54.6" fill="#727272"/>
<rect x="1959.9" y="1212.5" width="54.6" height="54.6" fill="#727272"/>
<rect x="2014.0" y="1212.5" width="54.6" height="54.6" fill="#808080"/>
<rect x="2068.1" y="1212.5" width="55.0" height="54.6" fill="#8e8e8e"/>
<rect x="2122.6" y="1212.5" width="50.9" height="54.6" fill="#8e8e8e"/>
<rect x="1579.1" y="1266.6" width="56.3" height="54.6" fill="#727272"/>
<rect x="1634.9" y="1266.6" width="54.6" height="54.6" fill="#727272"/>
<rect x="1689.0" y="1266.6" width="54.6" height="54.6" fill="#8e8e8e"/>
<rect x="1743.1" y="1266.6" width="55.0" height="54.6" fill="#8e8e8e"/>
<rect x="1797.6" y="1266.6" width="54.6" height="54.6" fill="#808080"/>
<rect x="1851.7" y="1266.6" width="54.6" height="54.6" fill="#727272"/>
<rect x="1905.8" y="1266.6" width="54.6" height="54.6" fill="#727272"/>
<rect x="1959.9" y="1266.6" width="54.6" height="54.6" fill="#727272"/>
<rect x="2014.0" y="1266.6" width="54.6" height="54.6" fill="#727272"/>
<rect x="2068.1" y="1266.6" width="55.0" height="54.6" fill="#808080"/>
<rect x="2122.6" y="1266.6" width="50.9" height="54.6" fill="#727272"/>
<rect x="1579.1" y="1320.7" width="56.3" height="54.6" fill="#727272"/>
<rect x="1634.9" y="1320.7" width="54.6" height="54.6" fill="#666666"/>
<rect x="1689.0" y="1320.7" width="54.6" height="54.6" fill="#808080"/>
<rect x="1743.1" y="1320.7" width="55.0" height="54.6" fill="#8e8e8e"/>
<rect x="1797.6" y="1320.7" width="54.6" height="54.6" fill="#8e8e8e"/>
<rect x="1851.7" y="1320.7" width="54.6" height="54.6" fill="#808080"/>
<rect x="1905.8" y="1320.7" width="54.6" height="54.6" fill="#808080"/>
<rect x="1959.9" y="1320.7" width="54.6" height="54.6" fill="#727272"/>
<rect x="2014.0" y="1320.7" width="54.6" height="54.6" fill="#727272"/>
<rect x="2068.1" y="1320.7" width="55.0" height="54.6" fill="#727272"/>
<rect x="2122.6" y="1320.7" width="50.9" height="54.6" fill="#727272"/>
<rect x="1579.1" y="1374.8" width="56.3" height="54.6" fill="#666666"/>
<rect x="1634.9" y="1374.8" width="54.6" height="54.6" fill="#666666"/>
<rect x="1689.0" y="1374.8" width="54.6" height="54.6" fill="#666666"/>
<rect x="1743.1" y="1374.8" width="55.0" height="54.6" fill="#727272"/>
<rect x="1797.6" y="1374.8" width="54.6" height="54.6" fill="#808080"/>
<rect x="1851.7" y="1374.8" width="54.6" height="54.6" fill="#8e8e8e"/>
<rect x="1905.8" y="1374.8" width="54.6" height="54.6" fill="#808080"/>
<rect x="1959.9" y="1374.8" width="54.6" height="54.6" fill="#808080"/>
<rect x="2014.0" y="1374.8" width="54.6" height="54.6" fill="#727272"/>
<rect x="2068.1" y="1374.8" width="55.0" height="54.6" fill="#666666"/>
<rect x="2122.6" y="1374.8" width="50.9" height="54.6" fill="#666666"/>
<rect x="1579.1" y="1428.9" width="56.3" height="57.9" fill="#666666"/>
<rect x="1634.9" y="1428.9" width="54.6" height="57.9" fill="#666666"/>
<rect x="1689.0" y="1428.9" width="54.6" height="57.9" fill="#666666"/>
<rect x="1743.1" y="1428.9" width="55.0" height="57.9" fill="#808080"/>
<rect x="1797.6" y="1428.9" width="54.6" height="57.9" fill="#808080"/>
<rect x="1851.7" y="1428.9" width="54.6" height="57.9" fill="#808080"/>
<rect x="1905.8" y="1428.9" width="54.6" height="57.9" fill="#727272"/>
<rect x="1959.9" y="1428.9" width="54.6" height="57.9" fill="#808080"/>
<rect x="2014.0" y="1428.9" width="54.6" height="57.9" fill="#808080"/>
<rect x="2068.1" y="1428.9" width="55.0" height="57.9" fill="#727272"/>
<rect x="2122.6" y="1428.9" width="50.9" height="57.9" fill="#727272"/>
<rect x="1579.1" y="1483" width="593.9" height="3.8" fill="#808080"/>
</g>
<line x1="1878.8" y1="892.5" x2="1878.8" y2="1483" stroke="#f8100c" stroke-width="3.2"/>
<line x1="1579" y1="1185.4" x2="2173" y2="1185.4" stroke="#f8100c" stroke-width="3.2"/>
<rect x="1853.7" y="1160.4" width="51" height="51" fill="#727272" stroke="#0a9ee0" stroke-width="4"/>
<g fill="none" stroke="#f00" stroke-width="3.2"><rect x="1585.7" y="1437.1" width="40.8" height="41.3"/><rect x="1633.8" y="1437.1" width="40.8" height="41.3"/><rect x="1681.9" y="1437.1" width="40.8" height="41.3"/></g><g fill="#f00"><rect x="1593.9" y="1454.3" width="31.0" height="3.1"/><rect x="1590.4" y="1457.4" width="34.5" height="3.1"/><rect x="1642.0" y="1454.3" width="31.0" height="3.1"/><rect x="1638.5" y="1457.4" width="34.5" height="3.1"/><rect x="1651.1" y="1441.7" width="6" height="35.1"/><rect x="1699.1" y="1438.7" width="3" height="38.1"/><rect x="1683.5" y="1457.3" width="37.6" height="3"/></g>
<g stroke="#878787" stroke-width="3.8" fill="none">
<line x1="294.0" y1="1801.4" x2="294.0" y2="3196.5"/>
<line x1="276" y1="3179.1" x2="2308" y2="3179.1"/>
<line x1="276" y1="3040.9" x2="294.0" y2="3040.9"/>
<line x1="276" y1="2902.8" x2="294.0" y2="2902.8"/>
<line x1="276" y1="2764.5" x2="294.0" y2="2764.5"/>
<line x1="276" y1="2627.3" x2="294.0" y2="2627.3"/>
<line x1="276" y1="2489.4" x2="294.0" y2="2489.4"/>
<line x1="276" y1="2351.2" x2="294.0" y2="2351.2"/>
<line x1="276" y1="2213.0" x2="294.0" y2="2213.0"/>
<line x1="276" y1="2075.2" x2="294.0" y2="2075.2"/>
<line x1="276" y1="1941.2" x2="294.0" y2="1941.2"/>
<line x1="276" y1="1803.3" x2="294.0" y2="1803.3"/>
<line x1="294.0" y1="3179.1" x2="294.0" y2="3196.5"/>
<line x1="742.8" y1="3179.1" x2="742.8" y2="3196.5"/>
<line x1="1191.6" y1="3179.1" x2="1191.6" y2="3196.5"/>
<line x1="1640.4" y1="3179.1" x2="1640.4" y2="3196.5"/>
<line x1="2089.2" y1="3179.1" x2="2089.2" y2="3196.5"/>
</g>
<text transform="translate(243.5 3192.5) scale(1.05 1)" font-size="43.5" class="dv" fill="#111" text-anchor="end">0</text>
<text transform="translate(243.5 3054.8) scale(1.05 1)" font-size="43.5" class="dv" fill="#111" text-anchor="end">0.1</text>
<text transform="translate(243.5 2919.5) scale(1.05 1)" font-size="43.5" class="dv" fill="#111" text-anchor="end">0.2</text>
<text transform="translate(243.5 2782.8) scale(1.05 1)" font-size="43.5" class="dv" fill="#111" text-anchor="end">0.3</text>
<text transform="translate(243.5 2645.0) scale(1.05 1)" font-size="43.5" class="dv" fill="#111" text-anchor="end">0.4</text>
<text transform="translate(243.5 2507.2) scale(1.05 1)" font-size="43.5" class="dv" fill="#111" text-anchor="end">0.5</text>
<text transform="translate(243.5 2369.5) scale(1.05 1)" font-size="43.5" class="dv" fill="#111" text-anchor="end">0.6</text>
<text transform="translate(243.5 2231.3) scale(1.05 1)" font-size="43.5" class="dv" fill="#111" text-anchor="end">0.7</text>
<text transform="translate(243.5 2093.2) scale(1.05 1)" font-size="43.5" class="dv" fill="#111" text-anchor="end">0.8</text>
<text transform="translate(243.5 1955.6) scale(1.05 1)" font-size="43.5" class="dv" fill="#111" text-anchor="end">0.9</text>
<text transform="translate(243.5 1817.5) scale(1.05 1)" font-size="43.5" class="dv" fill="#111" text-anchor="end">1</text>
<text transform="translate(296.9 3265.5) scale(1.05 1)" font-size="43.5" class="dv" fill="#111" text-anchor="middle">0.5</text>
<text transform="translate(746.6 3265.5) scale(1.05 1)" font-size="43.5" class="dv" fill="#111" text-anchor="middle">1</text>
<text transform="translate(1196.2 3265.5) scale(1.05 1)" font-size="43.5" class="dv" fill="#111" text-anchor="middle">1.5</text>
<text transform="translate(1646.0 3265.5) scale(1.05 1)" font-size="43.5" class="dv" fill="#111" text-anchor="middle">2</text>
<text transform="translate(2094.7 3265.5) scale(1.05 1)" font-size="43.5" class="dv" fill="#111" text-anchor="middle">2.5</text>
<polyline points="294.6,3092.6 298.9,3078.8 304.1,3058.1 309.3,3035.7 313.6,3009.9 317.0,2975.5 320.5,2941.0 323.0,2906.6 325.6,2872.2 328.2,2837.7 330.8,2803.3 332.5,2768.9 334.2,2747.3 339.4,2748.2 343.7,2751.7 348.0,2768.9 352.3,2786.1 354.9,2786.9 360.1,2777.5 364.4,2756.8 367.8,2732.7 373.8,2729.6 379.9,2731.0 384.2,2743.0 390.2,2748.2 397.1,2753.4 401.4,2756.8 404.0,2772.3 406.5,2786.1 410.9,2789.5 416.9,2793.0 422.9,2801.6 427.2,2813.6 429.8,2818.8 438.4,2817.9 445.3,2813.6 452.2,2811.9 457.3,2817.1 466.8,2823.1 474.6,2832.6 481.4,2839.5 489.2,2844.6 495.2,2855.0 498.7,2872.2 502.3,2880.0 506.1,2895.1 509.8,2913.3 515.1,2926.9 522.7,2937.5 530.3,2945.1 537.8,2955.7 545.4,2963.2 551.5,2973.8 556.0,2985.9 563.6,2993.5 571.1,3001.1 577.2,3005.6 584.7,2998.8 592.3,2999.6 598.4,3008.6 604.4,3020.7 610.5,3034.4 616.5,3040.4 624.1,3043.4 630.1,3052.5 634.7,3067.7 639.2,3081.3 640.0,3075.7 643.8,3086.1 651.3,3088.0 664.6,3088.0 670.3,3098.4 675.0,3116.3 679.7,3113.5 687.3,3102.1 693.9,3098.4 705.3,3099.3 711.9,3103.1 721.3,3103.7 728.0,3114.4 742.1,3118.2 748.8,3119.2 758.2,3115.4 764.8,3123.9 781.9,3124.5 791.3,3125.8 798.9,3130.5 810.2,3137.1 821.6,3140.9 829.1,3141.9 836.7,3151.3 863.2,3152.3 869.8,3144.7 885.9,3142.8 892.5,3140.0 899.1,3144.7 940.0,3145.3 945.4,3148.4 975.6,3149.1 994.6,3154.0 1009.7,3164.2 1022.9,3168.4 1036.2,3165.4 1051.3,3160.8 1161.0,3160.8 1170.5,3165.4 1183.7,3160.8 1206.4,3160.8 1214.0,3177.1" fill="none" stroke="#1170aa" stroke-width="6.8" stroke-linejoin="round" stroke-linecap="butt"/>
<line x1="1212.0" y1="3177.1" x2="2307.8" y2="3177.1" stroke="#1170aa" stroke-width="7.9"/>
<polyline points="332.6,2504.6 334.2,2462.0 336.1,2399.0 338.3,2304.4 340.5,2247.7 344.6,2219.3 350.9,2190.9 357.2,2165.7 362.0,2143.6 364.5,2083.7 367.6,2020.7 370.8,1963.9 374.6,1904.0 378.4,1859.9 385.6,1842.6 395.1,1847.3 406.1,1853.6 414.0,1877.2 423.4,1886.7 431.3,1904.0 442.4,1937.1 451.8,1919.8 459.7,1910.3 468.5,1915.1 477.0,1948.2 486.5,1970.2 497.5,1971.8 503.8,1995.5 513.3,2008.1 522.7,2036.4 530.6,2049.1 540.1,2075.9 549.5,2074.3 557.4,2093.2 565.3,2108.3 574.8,2101.1 584.2,2086.9 593.1,2049.1 601.6,2056.9 607.9,2115.3 614.2,2176.7 622.1,2162.5 630.6,2142.1 637.8,2197.2 646.6,2282.3 656.7,2247.7 667.1,2203.5 675.6,2257.1 679.7,2335.9 682.3,2462.0 684.2,2591.3 686.7,2493.6 689.2,2367.5 691.4,2298.1 704.0,2260.3 713.5,2291.8 721.4,2310.7 727.7,2367.5 737.1,2444.7 746.6,2433.7 757.0,2389.5 767.1,2408.4 776.5,2425.8 780.0,2424.1 786.3,2433.5 794.2,2438.3 800.5,2457.2 805.2,2507.6 809.9,2564.4 816.3,2602.2 825.7,2627.4 833.6,2659.0 839.9,2684.2 843.1,2759.8 847.8,2851.3 852.5,2860.7 857.2,2854.4 862.6,2791.4 866.7,2728.3 870.8,2684.2 880.9,2660.5 885.6,2643.2 891.0,2602.2 901.4,2600.6 907.7,2616.4 918.7,2622.7 928.2,2629.0 936.1,2647.9 947.1,2657.4 955.0,2674.7 961.3,2695.2 973.9,2701.5 981.8,2722.0 989.6,2744.1 996.0,2769.3 1000.7,2807.1 1005.4,2860.7 1008.6,2911.2 1013.3,2964.8 1017.1,3012.0 1021.2,3038.8 1025.9,3035.7 1030.6,3012.0 1033.8,2990.0 1043.2,2990.0 1048.0,2955.3 1052.7,2911.2 1057.4,2879.6 1062.2,2854.4 1068.5,2849.7 1077.9,2856.0 1087.4,2849.7 1096.8,2856.9 1104.7,2845.0 1112.6,2830.8 1123.6,2822.9 1133.1,2832.3 1141.0,2857.6 1147.3,2882.8 1153.0,2903.3 1158.3,2867.0 1163.0,2867.0 1168.4,2901.7 1177.2,2895.4 1180.0,2884.9 1185.7,2866.0 1197.0,2861.3 1199.9,2892.5 1201.8,2968.2 1203.7,3025.0 1206.5,3074.2 1212.2,3078.0 1222.6,3073.3 1226.4,3100.7 1230.2,3135.7 1234.9,3106.4 1239.6,3062.9 1244.4,3081.8 1249.1,3148.0 1255.7,3170.8 1274.6,3175.5 1293.6,3170.8 1303.0,3157.5 1310.6,3142.4 1316.3,3123.4 1323.9,3110.2 1333.3,3095.0 1339.0,3072.3 1341.8,3034.5 1344.7,3019.3 1350.4,3017.4 1357.0,3032.6 1361.7,3011.8 1367.4,2977.7 1373.1,2930.4 1378.8,2883.0 1384.4,2845.2 1392.0,2816.8 1395.8,2812.1 1403.6,2799.5 1421.0,2791.6 1430.4,2796.3 1438.3,2794.8 1443.1,2827.9 1446.2,2843.6 1455.7,2835.8 1466.7,2829.4 1474.6,2851.5 1482.5,2848.4 1491.9,2835.8 1503.0,2840.5 1512.4,2864.1 1526.6,2872.0 1536.1,2897.2 1548.7,2916.1 1559.7,2947.7 1569.2,2960.3 1581.8,2976.0 1592.8,2982.3 1603.8,2993.4 1619.6,2998.1 1627.5,3020.2 1636.9,3042.2 1644.8,3083.2 1651.1,3130.5 1659.0,3162.0 1668.5,3181.0 1679.5,3183.5 1742.5,3183.5 1758.3,3184.7 1774.1,3183.5 1791.4,3181.0 1797.7,3171.5 1805.6,3158.9 1818.2,3152.6 1822.9,3114.8 1829.2,3051.7 1835.5,3004.4 1842.5,2990.2 1848.7,3051.7 1855.0,3114.8 1862.9,3154.2 1870.8,3114.8 1877.1,3035.9 1881.8,3004.4 1887.2,2979.2 1892.9,3017.0 1900.7,3048.5 1908.0,3059.6 1914.9,3053.3 1921.2,3020.2 1927.5,2998.1 1933.8,2987.1 1943.3,2982.3 1954.3,2987.1 1965.4,3001.3 1978.0,3002.8 1987.4,3010.7 1998.5,3018.6 2006.4,3032.8 2017.4,3034.4 2028.4,3047.0 2039.5,3051.1 2052.1,3051.7 2060.0,3061.2 2067.8,3083.2 2075.7,3105.3 2085.2,3114.8 2094.6,3122.6 2105.7,3125.8 2118.3,3130.5 2130.9,3125.8 2140.3,3127.4 2149.8,3125.8 2160.8,3136.8 2175.0,3137.5 2184.5,3137.5 2193.9,3141.6 2201.8,3141.6 2209.7,3138.4 2219.2,3143.1 2228.6,3149.4 2238.1,3141.6 2247.5,3149.4 2257.0,3157.3 2269.6,3154.2 2279.1,3157.3 2288.5,3168.3 2298.0,3173.1 2307.4,3173.1" fill="none" stroke="#c23e3c" stroke-width="6.6" stroke-linejoin="round" stroke-linecap="butt"/>
<polyline points="294.6,2991.0 298.9,2985.8 305.8,2972.0 311.9,2956.5 315.3,2941.0 318.7,2906.6 321.3,2872.2 323.0,2837.7 324.8,2803.3 326.8,2768.9 328.2,2734.4 329.9,2700.0 330.4,2641.9 333.6,2604.0 338.3,2566.2 352.5,2563.1 360.4,2550.4 363.5,2515.8 366.7,2462.0 371.4,2399.0 376.2,2358.0 384.0,2340.7 393.5,2336.9 406.1,2337.5 414.0,2348.5 428.2,2347.0 442.4,2367.5 451.8,2348.5 459.7,2332.8 467.6,2325.9 477.0,2343.8 486.5,2351.7 497.5,2350.1 503.8,2364.3 519.6,2367.5 530.6,2381.7 540.1,2406.9 552.7,2405.3 565.3,2423.6 574.8,2413.2 585.8,2408.4 593.7,2391.1 603.1,2394.3 609.4,2430.5 614.2,2471.5 622.1,2462.0 630.6,2443.1 637.8,2477.8 642.5,2518.9 646.6,2539.4 656.7,2512.6 667.1,2481.1 672.5,2515.8 675.6,2563.1 679.7,2657.6 684.2,2756.9 687.3,2657.6 689.8,2578.8 693.0,2544.1 704.0,2525.2 713.5,2547.3 722.9,2572.5 730.8,2619.8 737.1,2662.4 746.6,2651.3 757.0,2618.2 767.1,2627.7 776.5,2634.0 780.0,2636.9 792.6,2641.6 800.5,2655.8 805.2,2687.3 809.9,2725.2 816.3,2750.4 825.7,2766.1 833.6,2788.2 839.3,2807.1 843.1,2870.2 846.8,2931.7 855.7,2931.7 862.0,2885.9 866.7,2822.9 870.8,2785.1 880.9,2759.8 885.6,2744.1 891.9,2706.2 899.8,2696.8 907.7,2706.2 918.7,2700.6 929.7,2706.2 943.9,2714.1 951.8,2726.7 959.7,2739.3 972.3,2744.1 981.8,2756.7 989.6,2775.6 996.0,2797.7 1000.7,2832.3 1005.4,2885.9 1008.6,2933.2 1013.3,2980.5 1017.1,3037.3 1025.9,3038.8 1030.6,3018.3 1035.4,2999.4 1043.2,2997.9 1048.0,2958.4 1052.7,2911.2 1057.4,2870.2 1062.2,2843.4 1070.0,2835.5 1082.6,2829.2 1096.8,2830.8 1104.7,2816.6 1114.2,2805.5 1123.6,2803.0 1133.1,2807.1 1141.0,2832.3 1147.3,2860.7 1153.0,2885.9 1157.7,2854.4 1160.8,2827.6 1164.6,2854.4 1169.3,2882.8 1177.2,2870.2 1180.0,2854.6 1183.8,2835.7 1191.4,2831.9 1198.9,2832.9 1204.6,2845.2 1212.2,2864.1 1219.8,2911.4 1227.3,2949.3 1234.9,2996.6 1242.5,3043.9 1246.3,3091.3 1249.1,3138.6 1252.9,3161.3 1259.5,3171.7 1274.6,3173.6 1289.8,3169.8 1299.3,3165.1 1304.9,3138.6 1310.6,3114.0 1316.3,3100.7 1323.9,3087.5 1331.4,3070.4 1334.3,3034.5 1339.0,2983.4 1344.7,2964.4 1350.4,2963.5 1354.1,2977.7 1357.0,2998.5 1359.8,2968.2 1364.6,2920.9 1369.3,2873.6 1375.0,2826.3 1379.7,2788.4 1386.3,2736.4 1394.2,2689.2 1403.6,2670.2 1413.1,2660.8 1424.1,2657.6 1438.3,2665.5 1443.1,2704.9 1446.2,2730.1 1455.7,2720.7 1466.7,2714.4 1473.0,2739.6 1480.9,2741.2 1490.3,2719.1 1503.0,2725.4 1512.4,2749.1 1528.2,2753.8 1540.8,2768.0 1558.1,2775.9 1569.2,2793.2 1578.6,2810.5 1588.1,2834.2 1597.5,2849.9 1611.7,2856.2 1619.6,2878.3 1629.1,2925.6 1636.9,2972.9 1643.2,3020.2 1648.0,3067.5 1654.3,3114.8 1660.6,3155.7 1670.0,3177.8 1679.5,3182.5 1742.5,3183.5 1752.0,3180.3 1763.0,3180.3 1774.1,3182.5 1789.8,3177.8 1796.1,3168.3 1804.0,3146.3 1816.6,3136.8 1821.4,3083.2 1827.7,2972.9 1834.0,2894.1 1842.5,2845.2 1848.7,2941.4 1855.0,3035.9 1862.9,3127.0 1870.8,3035.9 1877.1,2909.8 1881.8,2846.8 1887.2,2812.1 1891.3,2846.8 1896.0,2894.1 1902.3,2931.9 1908.0,2952.4 1914.9,2938.2 1921.2,2878.3 1927.5,2827.9 1933.8,2805.8 1941.7,2793.2 1952.8,2791.6 1962.2,2793.2 1970.1,2790.7 1979.6,2791.6 1987.4,2810.5 1996.9,2821.6 2004.8,2834.8 2017.4,2835.8 2023.7,2846.8 2030.0,2859.4 2039.5,2853.1 2050.5,2845.2 2058.4,2848.4 2067.8,2864.1 2077.3,2875.2 2086.7,2890.9 2096.2,2897.2 2107.2,2902.0 2113.5,2916.1 2119.9,2929.4 2130.9,2917.7 2135.6,2931.9 2140.3,2944.5 2151.4,2934.4 2157.7,2947.7 2164.0,2980.8 2178.2,2974.5 2186.1,2991.8 2193.9,3013.9 2201.8,3015.4 2209.7,2999.7 2217.6,3010.7 2223.9,3029.6 2230.2,3054.9 2238.1,3020.2 2246.0,3042.2 2252.3,3064.3 2258.6,3083.2 2266.4,3059.6 2274.3,3070.6 2280.6,3099.0 2285.4,3124.2 2291.7,3155.7 2299.5,3154.2 2307.4,3151.0" fill="none" stroke="#7b5294" stroke-width="6.6" stroke-linejoin="round" stroke-linecap="butt"/>
<text transform="translate(71 2612.5) rotate(-90)" font-size="60" class="pal" font-weight="bold" textLength="406" lengthAdjust="spacingAndGlyphs">Reflectance (%)</text>
<text x="1234.5" y="3296.5" font-size="41.5" class="dv" fill="#1a1a1a" stroke="#1a1a1a" stroke-width="1.7" stroke-linejoin="round" textLength="391" lengthAdjust="spacingAndGlyphs">Wavelength (µm)</text>
<line x1="2087" y1="2324.9" x2="2201.6" y2="2324.9" stroke="#1170aa" stroke-width="8"/>
<text x="2208.5" y="2343.8999999999996" font-size="43.2" class="dv" fill="#111">River</text>
<line x1="2087" y1="2422.3" x2="2201.6" y2="2422.3" stroke="#c23e3e" stroke-width="8"/>
<text x="2208.5" y="2441.7" font-size="43.2" class="dv" fill="#111">Soil</text>
<line x1="2087" y1="2523.8" x2="2201.6" y2="2523.8" stroke="#7b5294" stroke-width="8"/>
<text x="2208.5" y="2538.7" font-size="43.2" class="dv" fill="#111">plant</text>
</svg></body></html>
